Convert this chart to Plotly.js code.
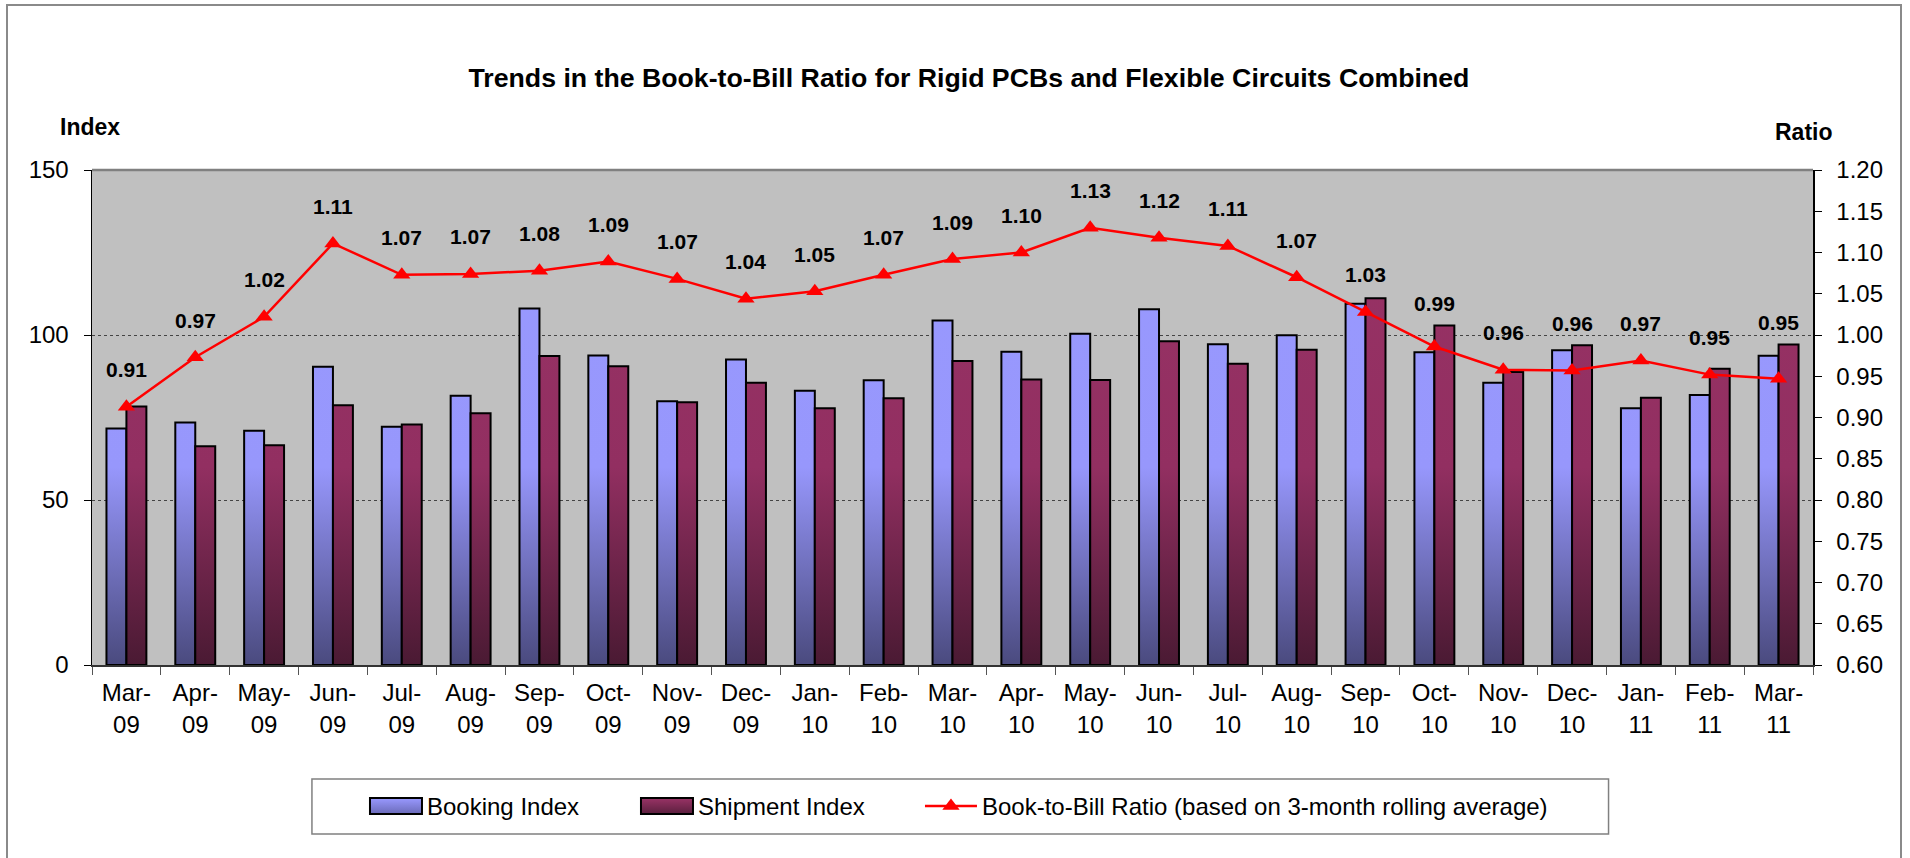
<!DOCTYPE html>
<html><head><meta charset="utf-8">
<script src="https://cdn.plot.ly/plotly-3.0.1.min.js"></script>
<style>
html,body{margin:0;padding:0;background:#fff;overflow:hidden}
#chart{width:1910px;height:858px}
#frame{position:absolute;left:6px;top:4px;width:1896px;height:900px;border:2px solid #8a8a8a;pointer-events:none;box-sizing:border-box}
</style></head><body>
<div id="chart"></div><div id="frame"></div>
<script>
const months = ['Mar-09','Apr-09','May-09','Jun-09','Jul-09','Aug-09','Sep-09','Oct-09','Nov-09','Dec-09',
  'Jan-10','Feb-10','Mar-10','Apr-10','May-10','Jun-10','Jul-10','Aug-10','Sep-10','Oct-10','Nov-10','Dec-10',
  'Jan-11','Feb-11','Mar-11'];
const bookingIndex = [71.7,73.5,71.0,90.4,72.2,81.6,108.0,93.8,79.9,92.6,83.1,86.3,104.4,94.9,100.4,107.8,97.2,99.9,109.5,94.8,85.5,95.4,77.8,81.8,93.7];
const shipmentIndex = [78.3,66.3,66.6,78.7,72.9,76.3,93.6,90.5,79.6,85.5,77.8,80.8,92.1,86.5,86.4,98.1,91.3,95.5,111.1,102.9,88.8,96.9,81.0,89.8,97.1];
const bookToBill = [0.913,0.973,1.022,1.111,1.073,1.074,1.078,1.089,1.068,1.044,1.053,1.073,1.092,1.100,1.130,1.118,1.108,1.070,1.028,0.986,0.958,0.957,0.969,0.952,0.947];
const leftTicks = [0,50,100,150];

const FONT = 'Liberation Sans, Arial, sans-serif';
const tickText = months.map(m => m.replace('-', '-<br>'));
const M = {l:92, r:97, t:170, b:193};
const W = 1910, H = 858;
const leftRange = [0,150], rightRange = [0.6,1.2];
const plotH = H - M.t - M.b;

const data = [
  {type:'bar', name:'Booking Index', x:months, y:bookingIndex, yaxis:'y',
   marker:{color:'#9999FF', line:{color:'#000', width:2}}, legendwidth:226},
  {type:'bar', name:'Shipment Index', x:months, y:shipmentIndex, yaxis:'y',
   marker:{color:'#993366', line:{color:'#000', width:2}}, legendwidth:239},
  {type:'scatter', mode:'lines+markers', name:'Book-to-Bill Ratio (based on 3-month rolling average)',
   x:months, y:bookToBill, yaxis:'y2',
   line:{color:'#FF0000', width:2.5}, marker:{symbol:'triangle-up', size:15, color:'#FF0000'}}
];

// label placed above the marker, raised further when the month's bars reach above it
const annotations = bookToBill.map((v,i) => {
  const markerPx = (v - rightRange[0]) / (rightRange[1]-rightRange[0]) * plotH;
  const barPx = Math.max(bookingIndex[i], shipmentIndex[i]) / (leftRange[1]-leftRange[0]) * plotH;
  const shift = Math.max(37, barPx - markerPx + 22);
  return {x: months[i], y: v, xref:'x', yref:'y2', yshift:shift, showarrow:false,
    text:'<b>'+v.toFixed(2)+'</b>', font:{family:FONT, size:21, color:'#000'}};
});
annotations.push({x:-0.001, y:1.087, xref:'paper', yref:'paper', xanchor:'center', yanchor:'middle', showarrow:false,
  text:'<b>Index</b>', font:{family:FONT, size:23, color:'#000'}});
annotations.push({x:0.995, y:1.077, xref:'paper', yref:'paper', xanchor:'center', yanchor:'middle', showarrow:false,
  text:'<b>Ratio</b>', font:{family:FONT, size:23, color:'#000'}});

const layout = {
  width:W, height:H,
  margin:{l:M.l, r:M.r, t:M.t, b:M.b, autoexpand:false},
  paper_bgcolor:'#fff', plot_bgcolor:'#C0C0C0',
  font:{family:FONT, size:24, color:'#000'},
  title:{text:'<b>Trends in the Book-to-Bill Ratio for Rigid PCBs and Flexible Circuits Combined</b>',
    font:{family:FONT, size:26.7, color:'#000'}, x:0.5073, xanchor:'center', xref:'container',
    y:0.909, yanchor:'middle', yref:'container'},
  barmode:'group', bargap:0.42, bargroupgap:0,
  xaxis:{type:'category', range:[-0.5, months.length-0.5], tickvals:months, ticktext:tickText,
    showline:true, linecolor:'#333', linewidth:1.5,
    ticks:'outside', tickson:'boundaries', ticklen:8, tickcolor:'#555', ticklabelstandoff:6,
    tickfont:{family:FONT, size:24}, showgrid:false, fixedrange:true},
  yaxis:{range:leftRange, tickvals:leftTicks, showline:true, linecolor:'#000', linewidth:1.5,
    ticks:'outside', ticklen:7, tickcolor:'#000', ticklabelstandoff:10,
    showgrid:true, gridcolor:'#444', griddash:'dot', gridwidth:1, zeroline:false,
    tickfont:{family:FONT, size:24}},
  yaxis2:{range:rightRange, dtick:0.05, tick0:0.6, tickformat:'.2f', overlaying:'y', side:'right',
    showline:true, linecolor:'#000', linewidth:1.5, ticks:'outside', ticklen:7, tickcolor:'#000',
    ticklabelstandoff:10, showgrid:false, zeroline:false, tickfont:{family:FONT, size:24}},
  showlegend:true,
  legend:{orientation:'h', x:0.1714, xanchor:'left', y:-0.2859, yanchor:'middle',
    bgcolor:'rgba(0,0,0,0)', borderwidth:0, font:{family:FONT, size:24, color:'#000'}, traceorder:'normal'},
  shapes:[
    {type:'line', xref:'paper', yref:'paper', x0:0, x1:1, y0:1, y1:1, line:{color:'#808080', width:2.5}},
    {type:'rect', xref:'paper', yref:'paper', x0:0.1278, x1:0.8812, y0:-0.2303, y1:-0.3414,
     line:{color:'#808080', width:1.5}, fillcolor:'rgba(0,0,0,0)'}
  ],
  annotations: annotations
};

Plotly.newPlot('chart', data, layout, {staticPlot:true, displayModeBar:false}).then(gd => {
  const NS = 'http://www.w3.org/2000/svg';
  const svg = gd.querySelector('.main-svg');
  let defs = svg.querySelector('defs');
  if(!defs){ defs = document.createElementNS(NS,'defs'); svg.insertBefore(defs, svg.firstChild); }
  const h = gd._fullLayout._size.h;
  function grad(id, stops, user){
    const g = document.createElementNS(NS,'linearGradient');
    g.setAttribute('id', id);
    g.setAttribute('x1','0'); g.setAttribute('x2','0');
    if(user){ g.setAttribute('gradientUnits','userSpaceOnUse'); g.setAttribute('y1','0'); g.setAttribute('y2', String(h)); }
    else { g.setAttribute('y1','0'); g.setAttribute('y2','1'); }
    stops.forEach(s => { const st = document.createElementNS(NS,'stop');
      st.setAttribute('offset', s[0]); st.setAttribute('stop-color', s[1]); g.appendChild(st); });
    defs.appendChild(g);
  }
  const bStops = [[0,'#9999FF'],[0.6,'#9797FC'],[1,'#4A4A7E']];
  const sStops = [[0,'#993366'],[0.6,'#922F61'],[1,'#4A1A33']];
  grad('gBook', bStops, true); grad('gShip', sStops, true);
  grad('gBookL', [[0,'#9999FF'],[1,'#6A6AB8']], false); grad('gShipL', [[0,'#993366'],[1,'#5A1F3D']], false);
  const tr = gd.querySelectorAll('.barlayer .trace');
  if(tr[0]) tr[0].querySelectorAll('path').forEach(p => p.style.fill = 'url(#gBook)');
  if(tr[1]) tr[1].querySelectorAll('path').forEach(p => p.style.fill = 'url(#gShip)');
  gd.querySelectorAll('.legend [clip-path]').forEach(el => el.removeAttribute('clip-path'));
  const lt = gd.querySelectorAll('.legend .traces');
  [['gBookL',0],['gShipL',1]].forEach(([id,i]) => {
    if(!lt[i]) return;
    lt[i].querySelectorAll('.legendpoints path').forEach(p => {
      p.setAttribute('d','M-37,-8H15V8H-37Z'); p.style.fill = 'url(#'+id+')';
    });
  });
  if(lt[2]){
    lt[2].querySelectorAll('.legendlines path').forEach(p => p.setAttribute('d','M-17,0h52'));
    lt[2].querySelectorAll('.legendpoints path').forEach(p => p.setAttribute('transform','translate(9,0)'));
  }
});
</script>
</body></html>
